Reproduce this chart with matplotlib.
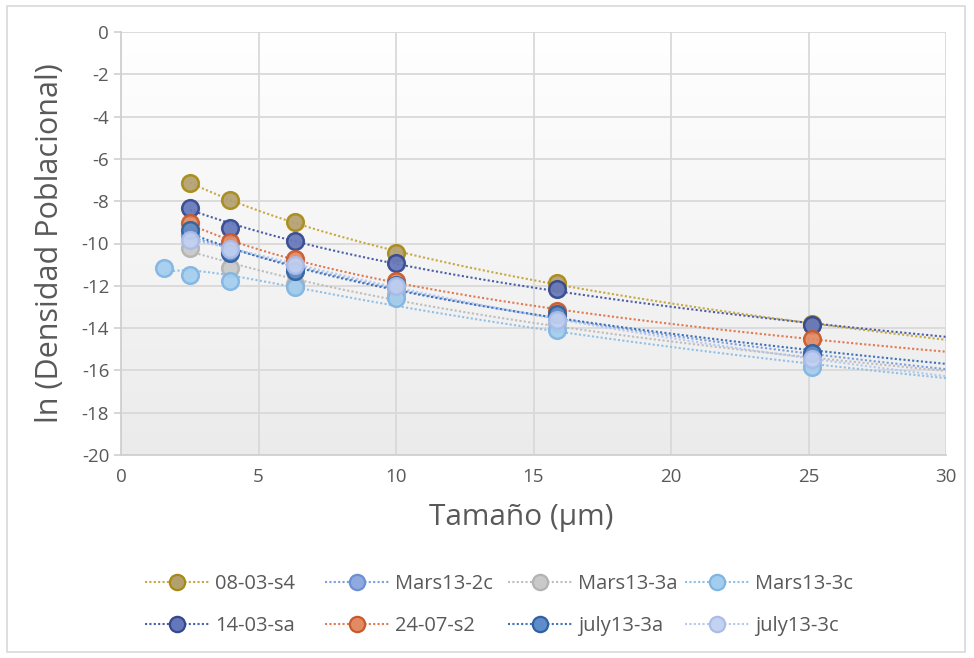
import numpy as np
import matplotlib
matplotlib.use("Agg")
import matplotlib.pyplot as plt
from matplotlib.lines import Line2D
from matplotlib.patches import Rectangle

plt.rcParams['font.family'] = ['Open Sans', 'DejaVu Sans']
plt.rcParams['axes.unicode_minus'] = False

# Particle size classes (µm)
sizes = [2.51, 3.98, 6.31, 10.0, 15.85, 25.12]
sizes_3c = [1.58, 2.51, 3.98, 6.31, 10.0, 15.85, 25.12]

# ln(population density) for each sample
s_08_03_s4 = [-7.14, -7.92, -9.0, -10.45, -11.85, -13.8]
s_mars13_2c = [-9.6, -10.4, -11.1, -12.05, -13.45, -15.3]
s_mars13_3a = [-10.2, -11.15, -11.9, -12.4, -13.75, -15.55]
s_mars13_3c = [-11.16, -11.49, -11.77, -12.06, -12.6, -14.1, -15.85]
s_14_03_sa = [-8.3, -9.25, -9.88, -10.9, -12.15, -13.85]
s_24_07_s2 = [-9.05, -9.95, -10.73, -11.75, -13.2, -14.5]
s_july13_3a = [-9.35, -10.45, -11.3, -11.95, -13.35, -15.2]
s_july13_3c = [-9.85, -10.25, -11.0, -12.0, -13.6, -15.45]

labels = ["08-03-s4", "Mars13-2c", "Mars13-3a", "Mars13-3c",
          "14-03-sa", "24-07-s2", "july13-3a", "july13-3c"]
xs = [sizes, sizes, sizes, sizes_3c, sizes, sizes, sizes, sizes]
ys = [s_08_03_s4, s_mars13_2c, s_mars13_3a, s_mars13_3c,
      s_14_03_sa, s_24_07_s2, s_july13_3a, s_july13_3c]

# (marker face, marker edge, trend line)
styles = [
    ("#b3a070", "#a88a12", "#c8a840"),
    ("#8eaadf", "#6d8fd4", "#7f9fdc"),
    ("#c9c9c9", "#b3b3b3", "#bdbdbd"),
    ("#a3cdee", "#80b5e2", "#8fc0e8"),
    ("#6577bb", "#34488e", "#4a5ea8"),
    ("#e28a62", "#c9592c", "#e07a50"),
    ("#5f8cca", "#30629f", "#3f72b8"),
    ("#c4d2f2", "#a9bcea", "#b5c8f0"),
]

W, H = 974, 658
fig = plt.figure(figsize=(W / 100, H / 100), dpi=100)
fig.patch.set_facecolor("white")
fig.add_artist(Rectangle((7 / W, 6 / H), 958 / W, 646 / H,
                         transform=fig.transFigure, fill=False,
                         edgecolor="#d9d9d9", linewidth=1.2))

ax = fig.add_axes([121 / W, 1 - 455 / H, 825 / W, 423 / H])

# soft vertical gradient behind the plot area
grad = np.linspace(1.0, 0.0, 256).reshape(-1, 1)
ax.imshow(grad, extent=[0, 1, 0, 1], transform=ax.transAxes, aspect="auto",
          cmap=matplotlib.colors.LinearSegmentedColormap.from_list(
              "bg", ["#ebebeb", "#ffffff"]),
          vmin=0, vmax=1, zorder=0)

ax.set_xlim(0, 30)
ax.set_ylim(-20, 0)
ax.set_xticks(np.arange(0, 31, 5))
ax.set_yticks(np.arange(-20, 1, 2))
ax.grid(True, color="#d9d9d9", linewidth=1.3, zorder=1)
ax.set_axisbelow(True)
for side in ["top", "right"]:
    ax.spines[side].set_visible(False)
for side in ["left", "bottom"]:
    ax.spines[side].set_color("#d0d0d0")
    ax.spines[side].set_linewidth(1.3)
ax.tick_params(axis="both", colors="#d0d0d0", labelcolor="#595959",
               labelsize=13.5, length=5, width=1.2)
ax.tick_params(axis="x", length=0, pad=9)

ax.set_xlabel("Tamaño (µm)", fontsize=21.5, color="#595959")
ax.xaxis.set_label_coords(0.485, -0.113)
ax.set_ylabel("ln (Densidad Poblacional)", fontsize=22, color="#595959",
              labelpad=12)

dot = (0, (1, 1.1))
handles = []
for x, y, lab, (fc, ec, lc) in zip(xs, ys, labels, styles):
    x = np.asarray(x)
    y = np.asarray(y)
    # second-order trend in ln(size)
    coef = np.polyfit(np.log(x), y, 2)
    xf = np.linspace(x.min(), 30, 200)
    ax.plot(xf, np.polyval(coef, np.log(xf)), linestyle=dot, color=lc,
            linewidth=1.5, zorder=2)
    handles.append(Line2D([], [], linestyle=dot, color=lc,
                          linewidth=1.5, marker="o", markersize=11,
                          markerfacecolor=fc, markeredgecolor=ec,
                          markeredgewidth=1.6, label=lab))

for x, y, (fc, ec, lc) in zip(xs, ys, styles):
    ax.plot(x, y, linestyle="none", marker="o", markersize=12,
            markerfacecolor=fc, markeredgecolor=ec, markeredgewidth=1.8,
            alpha=0.92, zorder=3, clip_on=False)

# legend: four evenly spaced columns, two rows each
col_left = [145, 325, 508, 685]
for c, left in enumerate(col_left):
    idx = [c, c + 4]
    fig.legend([handles[i] for i in idx], [labels[i] for i in idx],
               loc="center left", bbox_to_anchor=(left / W, 1 - 605 / H),
               frameon=False, fontsize=14.5, labelcolor="#595959",
               handlelength=3.2, handletextpad=0.3, labelspacing=1.05,
               borderpad=0, borderaxespad=0)

fig.savefig("out.png", dpi=100)
